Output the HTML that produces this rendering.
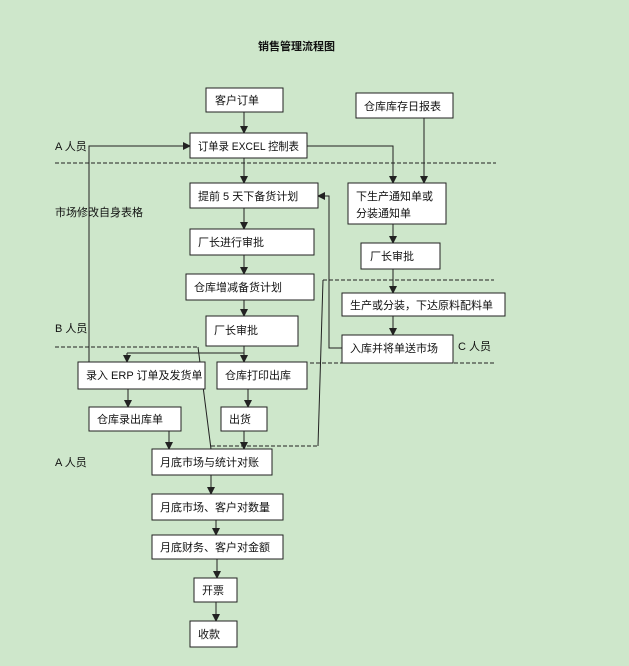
<!DOCTYPE html>
<html><head><meta charset="utf-8"><style>
html,body{margin:0;padding:0;background:#cee7cb;}
svg{display:block}
text{font-family:"Liberation Sans","Noto Sans CJK SC",sans-serif;font-size:11px;fill:#111;}
.b{fill:#fff;stroke:#222;stroke-width:1}
.l{stroke:#222;stroke-width:1;fill:none}
.d{stroke:#222;stroke-width:1;fill:none;stroke-dasharray:4,2}
</style></head><body>
<svg width="629" height="666" viewBox="0 0 629 666" xmlns="http://www.w3.org/2000/svg">
<defs><marker id="a" markerWidth="8" markerHeight="8" refX="7" refY="4" orient="auto" markerUnits="userSpaceOnUse"><path d="M0,0 L8,4 L0,8 z" fill="#222"/></marker></defs>
<rect width="629" height="666" fill="#cee7cb"/>
<text x="258" y="50" style="font-weight:bold;font-size:11px">销售管理流程图</text>
<text x="55" y="150">A 人员</text>
<text x="55" y="216">市场修改自身表格</text>
<text x="55" y="332">B 人员</text>
<text x="55" y="466">A 人员</text>
<text x="458" y="350">C 人员</text>
<path class="d" d="M55,163 H496"/>
<path class="d" d="M55,347 H198"/>
<path class="d" d="M323,280 H494"/>
<path class="d" d="M310,363 H494"/>
<path class="d" d="M211,446 H318"/>
<path class="l" d="M244,112 V133" marker-end="url(#a)"/>
<path class="l" d="M244,158 V183" marker-end="url(#a)"/>
<path class="l" d="M244,208 V229" marker-end="url(#a)"/>
<path class="l" d="M244,255 V274" marker-end="url(#a)"/>
<path class="l" d="M244,300 V316" marker-end="url(#a)"/>
<path class="l" d="M244,346 V353 M127,353 H244"/>
<path class="l" d="M127,353 V362" marker-end="url(#a)"/>
<path class="l" d="M244,353 V362" marker-end="url(#a)"/>
<path class="l" d="M89,362 V146 H190" marker-end="url(#a)"/>
<path class="l" d="M307,146 H393 V183" marker-end="url(#a)"/>
<path class="l" d="M424,118 V183" marker-end="url(#a)"/>
<path class="l" d="M393,224 V243" marker-end="url(#a)"/>
<path class="l" d="M393,269 V293" marker-end="url(#a)"/>
<path class="l" d="M393,316 V335" marker-end="url(#a)"/>
<path class="l" d="M342,348 H329 V196 H318" marker-end="url(#a)"/>
<path class="l" d="M198,347 L211,449"/>
<path class="l" d="M318,446 L323,280"/>
<path class="l" d="M128,389 V407" marker-end="url(#a)"/>
<path class="l" d="M248,389 V407" marker-end="url(#a)"/>
<path class="l" d="M169,431 V449" marker-end="url(#a)"/>
<path class="l" d="M244,431 V449" marker-end="url(#a)"/>
<path class="l" d="M211,475 V494" marker-end="url(#a)"/>
<path class="l" d="M216,520 V535" marker-end="url(#a)"/>
<path class="l" d="M217,559 V578" marker-end="url(#a)"/>
<path class="l" d="M216,602 V621" marker-end="url(#a)"/>
<rect class="b" x="206" y="88" width="77" height="24"/><text x="215" y="104">客户订单</text>
<rect class="b" x="190" y="133" width="117" height="25"/><text x="198" y="150" textLength="101" lengthAdjust="spacingAndGlyphs">订单录 EXCEL 控制表</text>
<rect class="b" x="190" y="183" width="128" height="25"/><text x="198" y="200">提前 5 天下备货计划</text>
<rect class="b" x="190" y="229" width="124" height="26"/><text x="198" y="246">厂长进行审批</text>
<rect class="b" x="186" y="274" width="128" height="26"/><text x="194" y="291">仓库增减备货计划</text>
<rect class="b" x="206" y="316" width="92" height="30"/><text x="214" y="334">厂长审批</text>
<rect class="b" x="356" y="93" width="97" height="25"/><text x="364" y="110">仓库库存日报表</text>
<rect class="b" x="348" y="183" width="98" height="41"/><text x="356" y="200">下生产通知单或</text><text x="356" y="217">分装通知单</text>
<rect class="b" x="361" y="243" width="79" height="26"/><text x="370" y="260">厂长审批</text>
<rect class="b" x="342" y="293" width="163" height="23"/><text x="350" y="309">生产或分装，下达原料配料单</text>
<rect class="b" x="342" y="335" width="111" height="28"/><text x="350" y="352">入库并将单送市场</text>
<rect class="b" x="78" y="362" width="127" height="27"/><text x="86" y="379">录入 ERP 订单及发货单</text>
<rect class="b" x="217" y="362" width="90" height="27"/><text x="225" y="379">仓库打印出库</text>
<rect class="b" x="89" y="407" width="92" height="24"/><text x="97" y="423">仓库录出库单</text>
<rect class="b" x="221" y="407" width="46" height="24"/><text x="229" y="423">出货</text>
<rect class="b" x="152" y="449" width="120" height="26"/><text x="160" y="466">月底市场与统计对账</text>
<rect class="b" x="152" y="494" width="131" height="26"/><text x="160" y="511">月底市场、客户对数量</text>
<rect class="b" x="152" y="535" width="131" height="24"/><text x="160" y="551">月底财务、客户对金额</text>
<rect class="b" x="194" y="578" width="43" height="24"/><text x="202" y="594">开票</text>
<rect class="b" x="190" y="621" width="47" height="26"/><text x="198" y="638">收款</text>
</svg>
</body></html>
